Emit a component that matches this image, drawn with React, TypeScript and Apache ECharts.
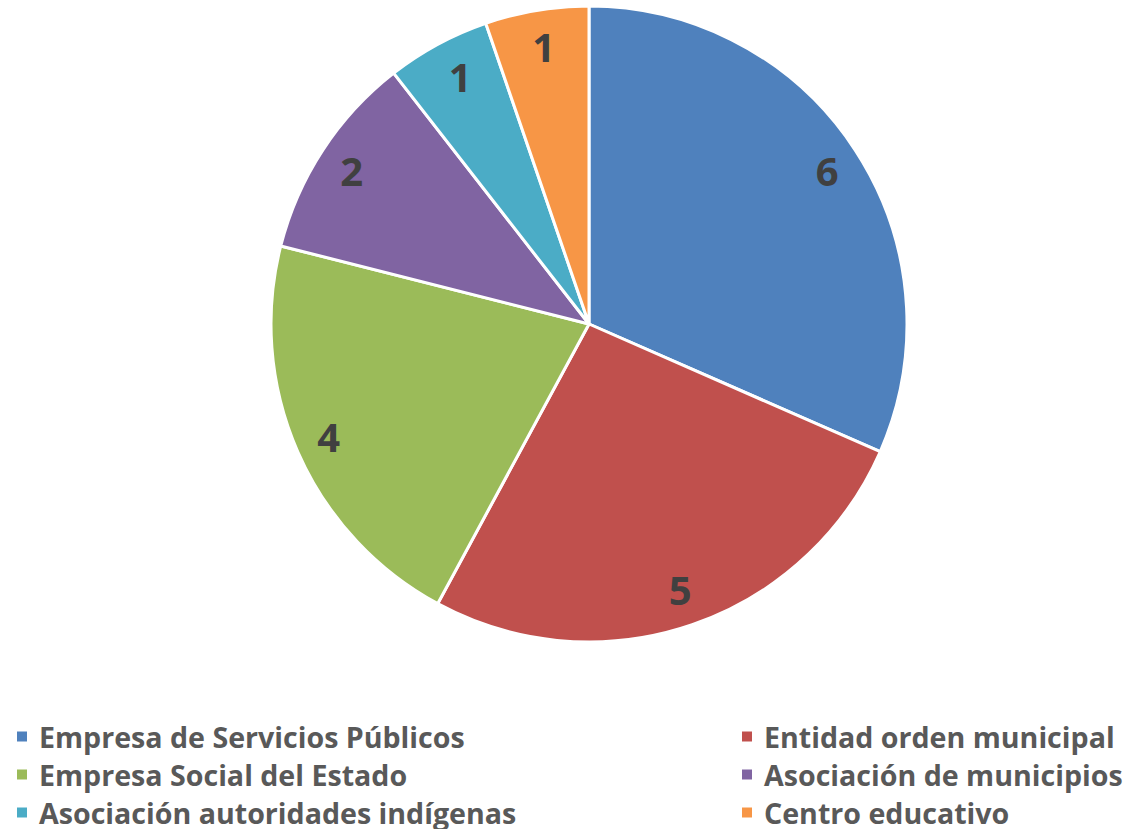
import React, { useEffect, useRef } from "react";
import * as echarts from "echarts";

const categories = [
  "Empresa de Servicios Públicos",
  "Entidad orden municipal",
  "Empresa Social del Estado",
  "Asociación de municipios",
  "Asociación autoridades indígenas",
  "Centro educativo",
];
const values = [6, 5, 4, 2, 1, 1];
const colors = ["#4F81BD", "#C0504D", "#9BBB59", "#8064A2", "#4BACC6", "#F79646"];
const leftLegend = [categories[0], categories[2], categories[4]];
const rightLegend = [categories[1], categories[3], categories[5]];
// small per-label nudges (padding: top, right, bottom, left)
const labelPads = [
  [0, 0, 0, 6],
  [0, 0, 10, 0],
  [4, 6, 0, 0],
  [0, 4, 0, 0],
  [24, 0, 0, 10],
  [20, 0, 0, 2],
];

export default function App() {
  const ref = useRef<HTMLDivElement>(null);
  useEffect(() => {
    if (!ref.current) return;
    const chart = echarts.init(ref.current, null, { renderer: "svg" });
    const data = categories.map((name, i) => ({
      name,
      value: values[i],
      itemStyle: { color: colors[i] },
    }));
    const legendCommon = {
      orient: "vertical" as const,
      top: 722,
      itemWidth: 12,
      itemHeight: 12,
      itemGap: 9,
      icon: "rect",
      textStyle: {
        fontFamily: "Open Sans",
        fontWeight: "bold" as const,
        fontSize: 28.6,
        color: "#595959",
        padding: [0, 0, 0, 6],
      },
      padding: 0,
      selectedMode: false,
    };
    chart.setOption({
      animation: false,
      color: colors,
      legend: [
        { ...legendCommon, left: 15, data: leftLegend },
        { ...legendCommon, left: 740, data: rightLegend },
      ],
      series: [
        {
          type: "pie",
          center: [589, 324],
          radius: [0, 318],
          startAngle: 90,
          clockwise: true,
          silent: true,
          label: { show: false },
          labelLine: { show: false },
          itemStyle: { borderColor: "#FFFFFF", borderWidth: 3 },
          data,
        },
        {
          type: "pie",
          center: [589, 324],
          radius: [238, 318],
          startAngle: 90,
          clockwise: true,
          silent: true,
          itemStyle: { color: "rgba(0,0,0,0)" },
          label: {
            show: true,
            position: "inside",
            formatter: "{c}",
            fontFamily: "Open Sans",
            fontWeight: "bold",
            fontSize: 40,
            color: "#404040",
          },
          labelLine: { show: false },
          data: categories.map((name, i) => ({
            name,
            value: values[i],
            label: { padding: labelPads[i] },
          })),
        },
      ],
    });
    return () => chart.dispose();
  }, []);
  return (
    <div
      ref={ref}
      style={{ position: "absolute", left: 0, top: 0, width: 1130, height: 829, background: "#fff" }}
    />
  );
}
